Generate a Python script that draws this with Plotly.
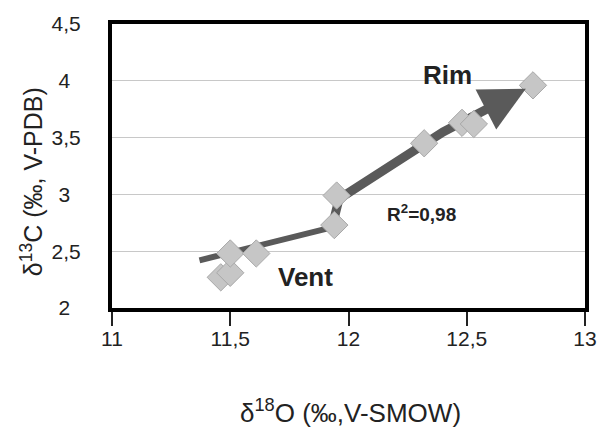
import plotly.graph_objects as go

# Data points (δ18O, δ13C)
d18O = [11.46, 11.50, 11.50, 11.61, 11.94, 11.95, 12.32, 12.48, 12.53, 12.78]
d13C = [2.27, 2.31, 2.48, 2.48, 2.73, 2.99, 3.45, 3.63, 3.62, 3.96]

# Trend arrow path (Vent -> Rim)
arrow_x = [11.37, 11.93, 11.96, 12.40, 12.62]
arrow_y = [2.42, 2.71, 2.96, 3.55, 3.79]
arrow_tip = (12.75, 3.93)

x_ticks = [11, 11.5, 12, 12.5, 13]
x_tick_labels = ["11", "11,5", "12", "12,5", "13"]
y_ticks = [2, 2.5, 3, 3.5, 4, 4.5]
y_tick_labels = ["2", "2,5", "3", "3,5", "4", "4,5"]

FONT = "Liberation Sans, Arial, sans-serif"
ARROW = "#5a5a5a"

# y labels in the reference are centred in their column: pad short ones
y_text = [t if "," in t else t + "\u2002" for t in y_tick_labels]

fig = go.Figure()

# tapered look: thin tail segment, thicker upper segments
fig.add_trace(go.Scatter(
    x=arrow_x[:2], y=arrow_y[:2], mode="lines",
    line=dict(color=ARROW, width=6), hoverinfo="skip", showlegend=False,
))
fig.add_trace(go.Scatter(
    x=arrow_x[1:], y=arrow_y[1:], mode="lines",
    line=dict(color=ARROW, width=9), hoverinfo="skip", showlegend=False,
))

fig.add_trace(go.Scatter(
    x=d18O, y=d13C, mode="markers",
    marker=dict(symbol="diamond", size=21, color="#c6c6c6",
                line=dict(color="#a8a8a8", width=1)),
    showlegend=False,
))

fig.add_annotation(
    x=arrow_tip[0], y=arrow_tip[1], ax=arrow_x[-1], ay=arrow_y[-1],
    xref="x", yref="y", axref="x", ayref="y",
    text="", showarrow=True, arrowhead=2, arrowsize=1.0,
    arrowwidth=9, arrowcolor=ARROW,
)

fig.add_annotation(x=12.42, y=4.05, text="<b>Rim</b>", showarrow=False,
                   font=dict(family=FONT, size=26, color="#222"))
fig.add_annotation(x=11.82, y=2.27, text="<b>Vent</b>", showarrow=False,
                   font=dict(family=FONT, size=26, color="#222"))
fig.add_annotation(x=12.31, y=2.84, text="<b>R<sup>2</sup>=0,98</b>", showarrow=False,
                   font=dict(family=FONT, size=19, color="#222"))

# Axis titles
fig.add_annotation(x=0.504, y=-0.364, xref="paper", yref="paper", yanchor="middle",
                   text="δ<sup>18</sup>O (‰,V-SMOW)", showarrow=False,
                   font=dict(family=FONT, size=26, color="#222"))
fig.add_annotation(x=-0.170, y=0.445, xref="paper", yref="paper", xanchor="center",
                   text="δ<sup>13</sup>C (‰, V-PDB)", showarrow=False, textangle=-90,
                   font=dict(family=FONT, size=25, color="#222"))

fig.update_layout(
    width=609, height=433,
    margin=dict(l=112, r=16, t=22, b=125),
    paper_bgcolor="white", plot_bgcolor="white",
    font=dict(family=FONT, size=21, color="#222"),
    showlegend=False,
)
fig.update_xaxes(
    range=[11, 13], tickvals=x_ticks, ticktext=x_tick_labels,
    showgrid=False, zeroline=False,
    showline=True, linecolor="black", linewidth=4, mirror=True,
    ticks="outside", ticklen=14, tickwidth=2, tickcolor="#222",
    ticklabelstandoff=-5,
)
fig.update_yaxes(
    range=[2, 4.5], tickvals=y_ticks, ticktext=y_text,
    showgrid=True, gridcolor="#c8c8c8", gridwidth=1,
    zeroline=False, showline=True, linecolor="black", linewidth=4, mirror=True,
    ticks="", ticklabelstandoff=23,
)

fig.write_html("out.html", config={"displayModeBar": False},
               post_script="document.body.style.margin='0';")
